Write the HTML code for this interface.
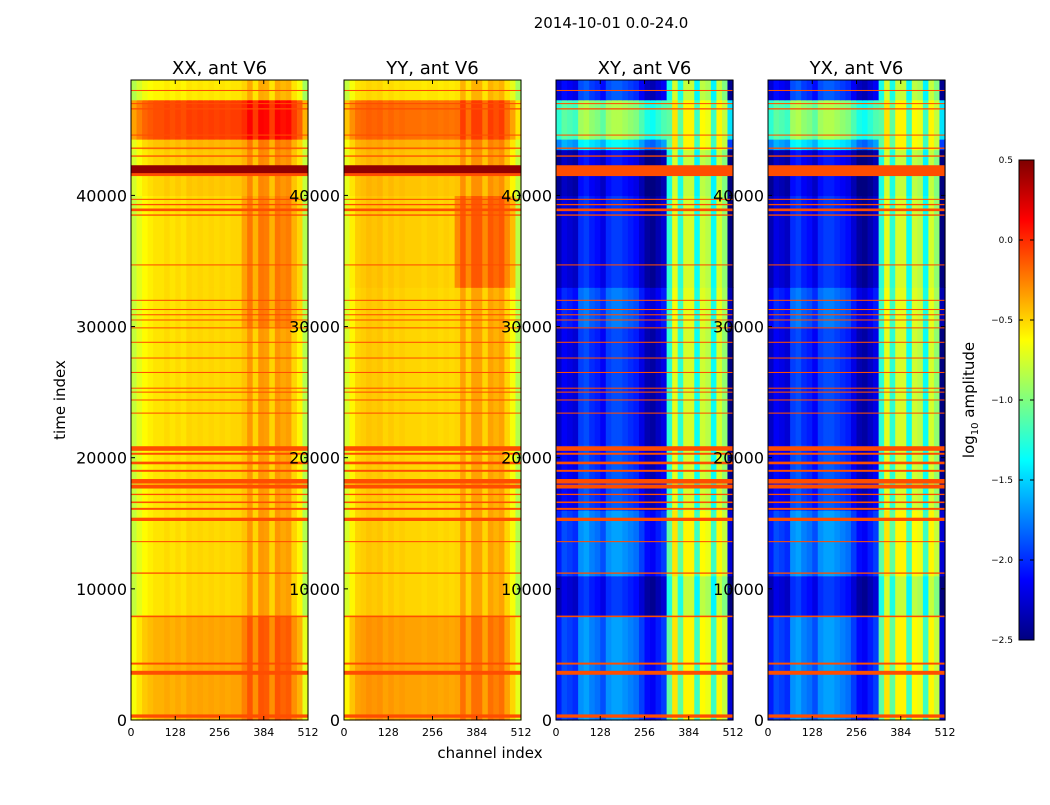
<!DOCTYPE html>
<html><head><meta charset="utf-8">
<style>
body{margin:0;background:#fff;width:1050px;height:800px;overflow:hidden;font-family:"Liberation Sans",sans-serif}
svg text{font-family:"DejaVu Sans","Liberation Sans",sans-serif}
</style></head>
<body>
<svg id="chart" width="1050" height="800" xmlns="http://www.w3.org/2000/svg">
<defs>
<linearGradient id="jet" x1="0" y1="1" x2="0" y2="0">
<stop offset="0" stop-color="#00007f"/><stop offset="0.125" stop-color="#0000ff"/>
<stop offset="0.375" stop-color="#00ffff"/><stop offset="0.625" stop-color="#ffff00"/>
<stop offset="0.875" stop-color="#ff0000"/><stop offset="1" stop-color="#7f0000"/>
</linearGradient>
</defs>
<text x="611" y="28" font-size="15" text-anchor="middle">2014-10-01 0.0-24.0</text>
<text transform="translate(65,400) rotate(-90)" font-size="15" text-anchor="middle">time index</text>
<text x="490" y="758" font-size="15" text-anchor="middle">channel index</text>
<g id="panels"></g>
<g>
<rect x="1019" y="160" width="15" height="480" fill="url(#jet)" stroke="#000" stroke-width="1"/>
<g id="cbticks"></g>
<text transform="translate(974,400) rotate(-90)" font-size="15" text-anchor="middle">log<tspan font-size="10" dy="4">10</tspan><tspan dy="-4"> amplitude</tspan></text>
</g>
</svg>
<script>
const panelNames=["XX, ant V6","YY, ant V6","XY, ant V6","YX, ant V6"];
const panelX=[131,344,556,768];
const colEdges=[0,16,32,48,64,80,96,112,128,144,160,176,192,208,224,240,256,272,288,304,320,336,352,368,384,400,416,432,448,464,480,496,512];
const colXX=[-0.8,-0.7,-0.62,-0.58,-0.55,-0.55,-0.52,-0.55,-0.52,-0.55,-0.5,-0.52,-0.5,-0.52,-0.5,-0.52,-0.5,-0.52,-0.5,-0.5,-0.45,-0.32,-0.5,-0.32,-0.34,-0.5,-0.32,-0.37,-0.34,-0.5,-0.6,-0.85];
const colYY=[-0.75,-0.6,-0.5,-0.48,-0.45,-0.47,-0.45,-0.5,-0.47,-0.5,-0.48,-0.5,-0.5,-0.5,-0.52,-0.5,-0.5,-0.52,-0.5,-0.52,-0.5,-0.35,-0.5,-0.35,-0.35,-0.5,-0.35,-0.4,-0.35,-0.5,-0.65,-0.85];
const colXY=[-2.15,-2.0,-2.05,-2.1,-1.8,-1.75,-1.85,-1.9,-2.0,-1.8,-1.75,-1.75,-1.8,-1.85,-1.9,-2.05,-2.2,-2.25,-2.15,-2.05,-1.2,-0.65,-1.2,-0.7,-0.7,-1.3,-0.72,-0.78,-1.3,-0.7,-0.9,-2.35];
const colYX=[-2.15,-2.0,-2.05,-2.1,-1.8,-1.75,-1.85,-1.9,-2.0,-1.8,-1.75,-1.75,-1.8,-1.85,-1.9,-2.05,-2.2,-2.25,-2.15,-2.05,-1.2,-0.65,-1.2,-0.7,-0.7,-1.3,-0.72,-0.78,-1.3,-0.7,-0.9,-2.35];
const timeEdges=[0,8000,11000,16000,21000,30000,33000,40000,43500,44300,47300,48800];
const rowXX=[0.15,0,0,0,0,0,0,0.05,0.1,0.45,-0.05];
const rowYY=[0.15,0,0,0,0,0,0.02,0.05,0.1,0.3,-0.05];
const rowXY=[0.1,-0.2,0.1,-0.1,-0.15,0,-0.2,-0.3,0.4,0.9,-0.1];
const rowYX=[0.1,-0.2,0.1,-0.1,-0.15,0,-0.2,-0.3,0.4,0.9,-0.1];
const bandXX=[0.05,0,0,0,0,0.1,0.1,0,0,0,0];
const bandYY=[0,0,0,0,0,0,0.2,0,0,0,0];
const bandXY=[0,0.1,0,0.05,0.1,0,0.15,0.2,-0.3,-0.8,0];
const bandYX=[0,0.1,0,0.05,0.1,0,0.15,0.2,-0.3,-0.8,0];
const flagTimes=[300,3600,4300,7900,11200,13600,15300,16100,16600,17200,17800,18200,19000,19600,20300,20700,23400,24400,25000,25300,26500,27600,28800,29900,30500,30900,31300,32000,34700,38500,38900,39300,39700,41600,42000,43000,43600,44600,46600,47000,48000];
const flagWidths=[250,300,150,120,100,80,250,150,120,100,300,350,150,200,150,350,80,80,80,80,80,80,80,80,80,80,80,80,80,100,200,100,80,250,600,100,100,80,100,80,80];
const flagValue=-0.1;
const cbTicks=[0.5,0.0,-0.5,-1.0,-1.5,-2.0,-2.5];
const xTicks=[0,128,256,384,512];
const yTicks=[0,10000,20000,30000,40000];
const vmin=-2.5,vmax=0.5,tMax=48800,plotTop=80,plotH=640,plotW=177;
const cols=[colXX,colYY,colXY,colYX],rows=[rowXX,rowYY,rowXY,rowYX],bands=[bandXX,bandYY,bandXY,bandYX];

function jet(v){let t=(v-vmin)/(vmax-vmin);t=Math.max(0,Math.min(1,t));
 const c=x=>Math.round(255*Math.max(0,Math.min(1,x)));
 return `rgb(${c(1.5-Math.abs(4*t-3))},${c(1.5-Math.abs(4*t-2))},${c(1.5-Math.abs(4*t-1))})`;}
const xS=(p,ch)=>panelX[p]+ch/512*plotW;
const yS=t=>plotTop+plotH-t/tMax*plotH;
const NS="http://www.w3.org/2000/svg";
function mk(tag,attrs,parent){const e=document.createElementNS(NS,tag);for(const k in attrs)e.setAttribute(k,attrs[k]);parent.appendChild(e);return e;}
const root=document.getElementById('panels');
for(let p=0;p<4;p++){
 const g=mk('g',{},root);
 
 
 for(let j=0;j<timeEdges.length-1;j++){
  for(let i=0;i<colEdges.length-1;i++){
   const inBand=colEdges[i]>=320&&colEdges[i]<496;
   const v=cols[p][i]+rows[p][j]+(inBand?bands[p][j]:0);
   const x0=xS(p,colEdges[i]),x1=xS(p,colEdges[i+1]),y0=yS(timeEdges[j+1]),y1=yS(timeEdges[j]);
   const r=mk('rect',{x:x0,y:y0,width:x1-x0+0.6,height:y1-y0+0.6,fill:jet(v)},g);
   
   
  }
 }
 for(let k=0;k<flagTimes.length;k++){
  const dark=(p<2&&flagTimes[k]===42000);
  const h=Math.max(1,flagWidths[k]/tMax*plotH);
  const r=mk('rect',{x:panelX[p],y:yS(flagTimes[k])-h/2,width:plotW,height:h,fill:jet(dark?0.45:flagValue)},g);
  
  
 }
 const fr=mk('rect',{x:panelX[p],y:plotTop,width:plotW,height:plotH,fill:'none',stroke:'#000','stroke-width':1},g);
 
 
 const tt=mk('text',{x:panelX[p]+plotW/2,y:74,'font-size':18,'text-anchor':'middle'},g);
 tt.textContent=panelNames[p];
 
 
 for(const c of xTicks){
  const x=xS(p,c);
  mk('line',{x1:x,x2:x,y1:plotTop+plotH,y2:plotTop+plotH-4,stroke:'#000'},g);
  mk('line',{x1:x,x2:x,y1:plotTop,y2:plotTop+4,stroke:'#000'},g);
  const t=mk('text',{x:x,y:736,'font-size':11,'text-anchor':'middle'},g);
  t.textContent=c;
  
  
 }
 for(const v of yTicks){
  const y=yS(v);
  mk('line',{x1:panelX[p],x2:panelX[p]+4,y1:y,y2:y,stroke:'#000'},g);
  mk('line',{x1:panelX[p]+plotW,x2:panelX[p]+plotW-4,y1:y,y2:y,stroke:'#000'},g);
  const t=mk('text',{x:panelX[p]-4,y:y+6,'font-size':16,'text-anchor':'end'},g);
  t.textContent=v;
  
  
 }
}
const cb=document.getElementById('cbticks');
for(const v of cbTicks){
 const y=160+(vmax-v)/(vmax-vmin)*480;
 mk('line',{x1:1019,x2:1023,y1:y,y2:y,stroke:'#000'},cb);
 mk('line',{x1:1034,x2:1030,y1:y,y2:y,stroke:'#000'},cb);
 const t=mk('text',{x:1013,y:y+3,'font-size':9,'text-anchor':'end'},cb);
 t.textContent=v.toFixed(1).replace('-','\u2212');
 
 
}
</script>
</body></html>
